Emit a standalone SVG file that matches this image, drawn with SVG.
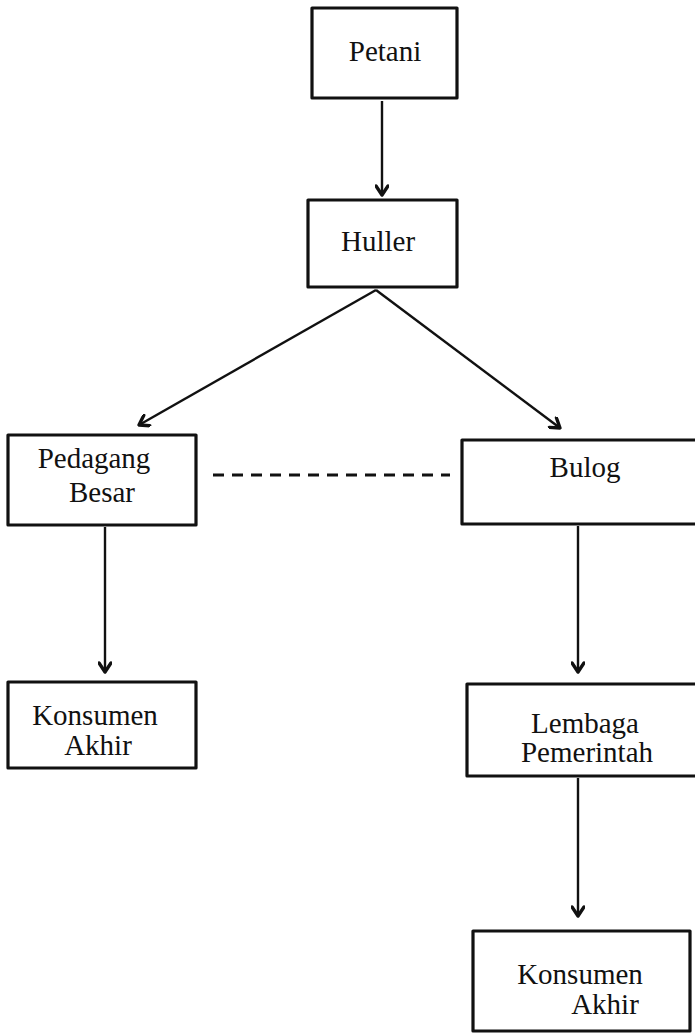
<svg xmlns="http://www.w3.org/2000/svg" width="695" height="1035" viewBox="0 0 695 1035">
<style>
.box{fill:#fff;stroke:#111;stroke-width:3.2;stroke-linejoin:round}
.t{font-family:"Liberation Serif",serif;font-size:29px;fill:#111;text-anchor:middle}
.c{stroke:#111;stroke-width:2.4;fill:none}
.d{stroke:#111;stroke-width:3;fill:none;stroke-dasharray:11,8}
</style>
<defs>
<marker id="ah" viewBox="0 0 14 14" refX="12" refY="7" markerWidth="14" markerHeight="14" markerUnits="userSpaceOnUse" orient="auto">
<path d="M3,1 L12,7 L3,13" fill="none" stroke="#111" stroke-width="3.4" stroke-linejoin="round" stroke-linecap="round"/>
</marker>
</defs>
<g id="connectors">
<line class="c" x1="382" y1="101" x2="382" y2="195" marker-end="url(#ah)"/>
<line class="c" x1="376" y1="290" x2="139" y2="425" marker-end="url(#ah)"/>
<line class="c" x1="376" y1="290" x2="560" y2="428" marker-end="url(#ah)"/>
<line class="d" x1="213" y1="475" x2="450" y2="475"/>
<line class="c" x1="105" y1="527" x2="105" y2="672" marker-end="url(#ah)"/>
<line class="c" x1="578" y1="526" x2="578" y2="672" marker-end="url(#ah)"/>
<line class="c" x1="578" y1="778" x2="578" y2="916" marker-end="url(#ah)"/>
</g>
<g id="petani"><rect class="box" x="312" y="8" width="145" height="90"/><text class="t" x="385" y="61">Petani</text></g>
<g id="huller"><rect class="box" x="308" y="200" width="149" height="87"/><text class="t" x="378" y="251">Huller</text></g>
<g id="pedagang"><rect class="box" x="8" y="435" width="188" height="90"/><text class="t" x="94" y="468">Pedagang</text><text class="t" x="102" y="502">Besar</text></g>
<g id="bulog"><rect class="box" x="462" y="440" width="240" height="84"/><text class="t" x="585" y="477">Bulog</text></g>
<g id="konsumen1"><rect class="box" x="8" y="682" width="188" height="86"/><text class="t" x="95" y="725">Konsumen</text><text class="t" x="98" y="755">Akhir</text></g>
<g id="lembaga"><rect class="box" x="467" y="684" width="240" height="92"/><text class="t" x="585" y="733">Lembaga</text><text class="t" x="587" y="762">Pemerintah</text></g>
<g id="konsumen2"><rect class="box" x="473" y="931" width="217" height="100"/><text class="t" x="580" y="984">Konsumen</text><text class="t" x="605" y="1014">Akhir</text></g>
</svg>
